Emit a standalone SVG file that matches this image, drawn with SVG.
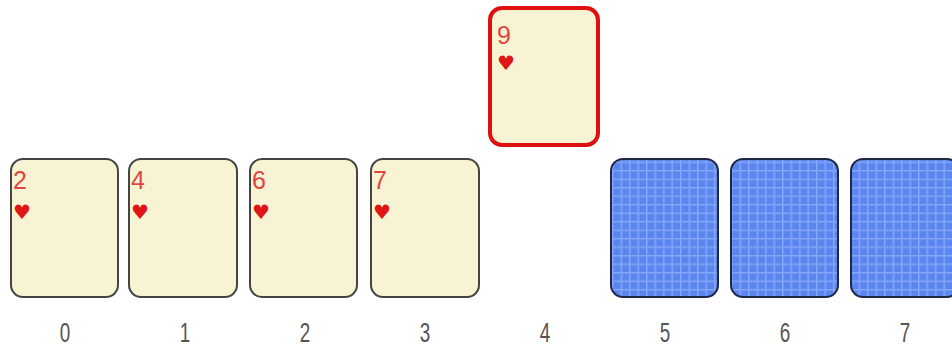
<svg xmlns="http://www.w3.org/2000/svg" width="952" height="347" viewBox="0 0 952 347">
<style>
.face{fill:#f8f3d2;stroke:#444;stroke-width:2}
.back{fill:url(#grid);stroke:#1e2848;stroke-width:2}
.sel{fill:#f8f3d2;stroke:#e01010;stroke-width:4}
.rank{font-family:"Liberation Sans",Arial,sans-serif;font-size:25px;fill:#e04545}
.suit{font-family:"DejaVu Sans",sans-serif;font-size:20px;fill:#e01515}
.idx{font-family:"Liberation Sans",Arial,sans-serif;font-size:27px;fill:#555;text-anchor:middle}
</style>
<defs>
<pattern id="grid" width="8.5" height="8.5" patternUnits="userSpaceOnUse">
<rect width="8.5" height="8.5" fill="#5c86ef"/>
<path d="M0 0.75H8.5M0.75 0V8.5" stroke="#84a6f6" stroke-width="1.5"/>
</pattern>
</defs>
<g id="card0"><rect class="face" x="11" y="159" width="107" height="138" rx="12"/><text class="rank" x="13" y="189">2</text><text class="suit" x="13" y="219">♥</text></g>
<g id="card1"><rect class="face" x="129" y="159" width="108" height="138" rx="12"/><text class="rank" x="131" y="189">4</text><text class="suit" x="131" y="219">♥</text></g>
<g id="card2"><rect class="face" x="250" y="159" width="107" height="138" rx="12"/><text class="rank" x="252" y="189">6</text><text class="suit" x="252" y="219">♥</text></g>
<g id="card3"><rect class="face" x="371" y="159" width="108" height="138" rx="12"/><text class="rank" x="373" y="189">7</text><text class="suit" x="373" y="219">♥</text></g>
<g id="card4"><rect class="sel" x="490" y="8" width="108" height="137" rx="12"/><text class="rank" x="497" y="44">9</text><text class="suit" x="497" y="70">♥</text></g>
<g id="card5"><rect class="back" x="611" y="159" width="107" height="138" rx="12"/></g>
<g id="card6"><rect class="back" x="731" y="159" width="107" height="138" rx="12"/></g>
<g id="card7"><rect class="back" x="851" y="159" width="108" height="138" rx="12"/></g>
<g id="labels" transform="scale(0.7,1)">
<text class="idx" x="92.86" y="342">0</text>
<text class="idx" x="264.29" y="342">1</text>
<text class="idx" x="435.71" y="342">2</text>
<text class="idx" x="607.14" y="342">3</text>
<text class="idx" x="778.57" y="342">4</text>
<text class="idx" x="950" y="342">5</text>
<text class="idx" x="1121.43" y="342">6</text>
<text class="idx" x="1292.86" y="342">7</text>
</g>
<g id="connectors"/>
</svg>
